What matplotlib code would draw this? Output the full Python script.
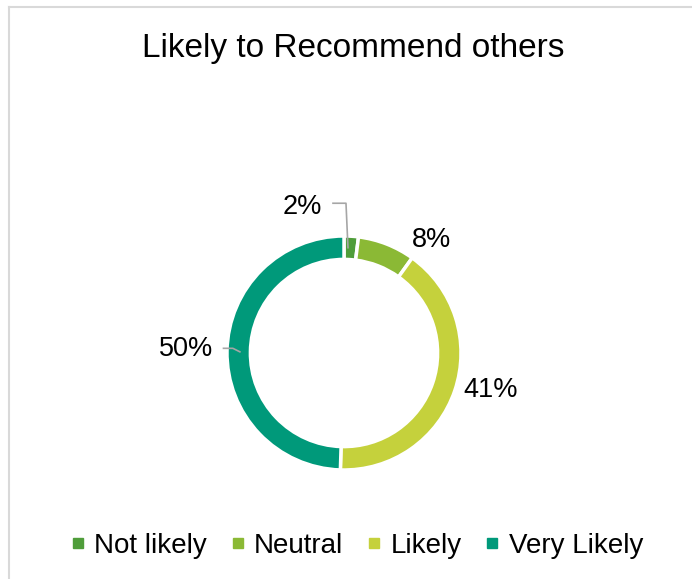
import matplotlib.pyplot as plt
from matplotlib.lines import Line2D
import numpy as np

plt.rcParams["font.family"] = ["Liberation Sans", "DejaVu Sans"]

# Survey answers (percent of respondents)
categories = ["Not likely", "Neutral", "Likely", "Very Likely"]
shares = [2, 8, 41, 50]
colors = ["#4F9D3A", "#8BB935", "#C5D13C", "#00997A"]

W, H = 692, 579
fig = plt.figure(figsize=(W / 100, H / 100), dpi=100, facecolor="white")

# Donut placed by pixel centre and radius
cx, cy, r = 344, 353, 117
ax = fig.add_axes([(cx - r) / W, (H - cy - r) / H, 2 * r / W, 2 * r / H])
ax.set_aspect("equal")
ax.axis("off")

wedges, _ = ax.pie(shares, colors=colors, startangle=90, counterclock=False,
                   radius=1, wedgeprops=dict(width=0.2, edgecolor="white", linewidth=2.5))
ax.set_xlim(-1, 1)
ax.set_ylim(-1, 1)

# Percentage labels, offset from each wedge's middle angle
label_pos = [(-0.36, 1.25), (0.75, 0.97), (1.25, -0.32), (-1.35, 0.03)]
for (x, y), v in zip(label_pos, shares):
    ax.text(x, y, f"{v}%", ha="center", va="center", fontsize=19.5, color="black", clip_on=False)

# Leader lines for the thin slice and the left label
lead = "#A6A6A6"
ax.plot([-0.094, 0.017, 0.034], [1.28, 1.28, 0.90], color=lead, lw=1.2, clip_on=False)
ax.plot([-1.03, -0.95, -0.89], [0.04, 0.04, 0.01], color=lead, lw=1.2, clip_on=False)

fig.text(353 / W, 1 - 48 / H, "Likely to Recommend others", ha="center", va="center",
         fontsize=24, color="black")

handles = [Line2D([], [], marker="s", linestyle="none", markersize=6.5,
                  markerfacecolor=c, markeredgecolor=c) for c in colors]
fig.legend(handles, categories, loc="center", bbox_to_anchor=(357 / W, 1 - 546 / H),
           ncol=4, frameon=False, fontsize=20, handlelength=0.5, handletextpad=0.35,
           columnspacing=0.85, borderpad=0)

# Chart-area border (top and left edges visible)
fig.add_artist(Line2D([8.5 / W, 8.5 / W], [0, 1 - 6.5 / H], color="#D9D9D9", lw=1.5))
fig.add_artist(Line2D([8.5 / W, 1], [1 - 6.5 / H, 1 - 6.5 / H], color="#D9D9D9", lw=1.5))

fig.savefig("out.png", dpi=100, facecolor="white")
